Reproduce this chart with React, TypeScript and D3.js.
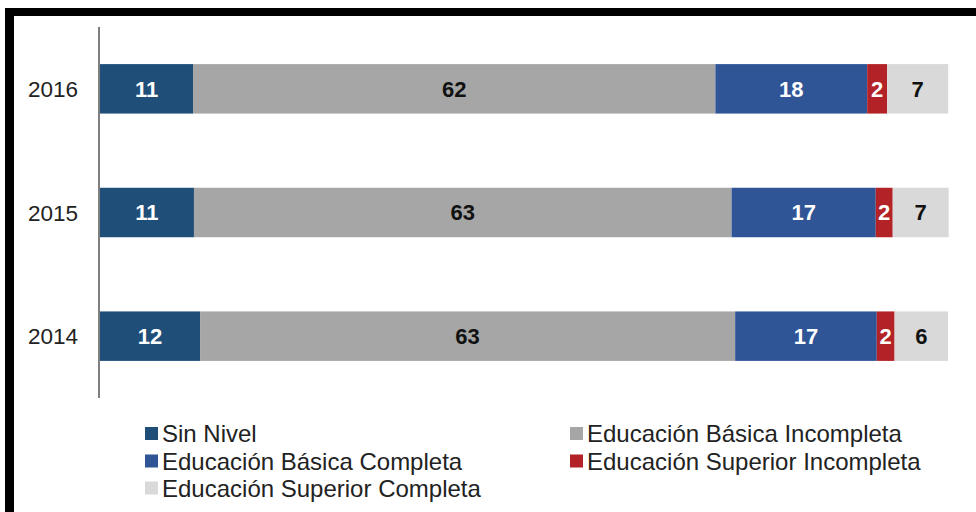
import React from "react";
import * as d3 from "d3";

const years = ["2016", "2015", "2014"];
const seriesNames = [
  "Sin Nivel",
  "Educación Básica Incompleta",
  "Educación Básica Completa",
  "Educación Superior Incompleta",
  "Educación Superior Completa",
];
const sinNivel = [10.97, 11.08, 11.8];
const basicaIncompleta = [61.6, 63.4, 63.1];
const basicaCompleta = [17.9, 17.0, 16.7];
const superiorIncompleta = [2.35, 2.0, 2.1];
const superiorCompleta = [7.2, 6.6, 6.3];
const labelSinNivel = ["11", "11", "12"];
const labelBasicaIncompleta = ["62", "63", "63"];
const labelBasicaCompleta = ["18", "17", "17"];
const labelSuperiorIncompleta = ["2", "2", "2"];
const labelSuperiorCompleta = ["7", "7", "6"];

const colors = ["#1f4e79", "#a6a6a6", "#2f5597", "#b22226", "#d9d9d9"];
const textColors = ["#ffffff", "#111111", "#ffffff", "#ffffff", "#111111"];

export default function App() {
  const W = 976;
  const H = 512;
  const series = [sinNivel, basicaIncompleta, basicaCompleta, superiorIncompleta, superiorCompleta];
  const labels = [labelSinNivel, labelBasicaIncompleta, labelBasicaCompleta, labelSuperiorIncompleta, labelSuperiorCompleta];

  const x = d3.scaleLinear().domain([0, 100]).range([100, 948]);
  const y = d3.scaleBand<string>().domain(years).range([27, 398]).paddingInner(0.6).paddingOuter(0.3);

  const rows = years.map((yr, i) => {
    const obj: any = { year: yr };
    seriesNames.forEach((s, j) => (obj[s] = series[j][i]));
    return obj;
  });
  const stack = d3.stack<any>().keys(seriesNames)(rows);

  const legendItems = [
    { i: 0, x: 145, y: 433.5 },
    { i: 1, x: 570, y: 433.5 },
    { i: 2, x: 145, y: 461 },
    { i: 3, x: 570, y: 461 },
    { i: 4, x: 145, y: 488 },
  ];

  return (
    <svg width={W} height={H} style={{ position: "absolute", left: 0, top: 0, background: "#fff" }} fontFamily="Liberation Sans, Arial, sans-serif">
      <rect x={0} y={0} width={W} height={H} fill="#fff" />
      {/* frame */}
      <rect x={5} y={8} width={W - 5} height={8} fill="#000" />
      <rect x={5} y={8} width={9} height={H - 8} fill="#000" />

      {stack.map((layer, j) =>
        layer.map((d, i) => {
          const x0 = x(d[0]);
          const x1 = x(d[1]);
          const yy = y(years[i])!;
          return (
            <g key={`${j}-${i}`}>
              <rect x={x0} y={yy} width={x1 - x0} height={y.bandwidth()} fill={colors[j]} />
              <text
                x={(x0 + x1) / 2}
                y={yy + y.bandwidth() / 2}
                dy="0.36em"
                textAnchor="middle"
                fontSize={22}
                fontWeight="bold"
                fill={textColors[j]}
              >
                {labels[j][i]}
              </text>
            </g>
          );
        })
      )}

      {/* axis */}
      <line x1={99} x2={99} y1={27} y2={398} stroke="#7f7f7f" strokeWidth={2} />
      {years.map((yr) => (
        <text key={yr} x={78} y={y(yr)! + y.bandwidth() / 2} dy="0.36em" textAnchor="end" fontSize={22.5} fill="#222">
          {yr}
        </text>
      ))}

      {/* legend */}
      {legendItems.map((it) => (
        <g key={it.i}>
          <rect x={it.x} y={it.y - 6.5} width={13} height={13} fill={colors[it.i]} />
          <text x={it.x + 17} y={it.y} dy="0.36em" fontSize={24} fill="#222">
            {seriesNames[it.i]}
          </text>
        </g>
      ))}
    </svg>
  );
}
